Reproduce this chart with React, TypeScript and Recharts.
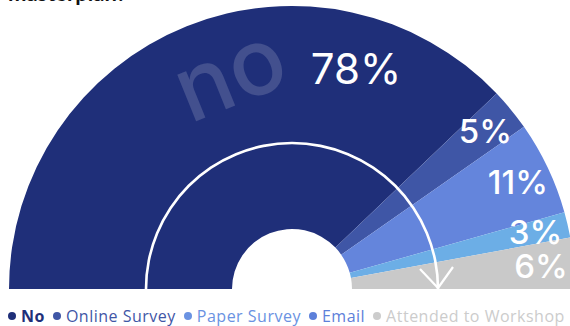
import React from "react";
import { PieChart, Pie, Cell, Legend } from "recharts";

const CATEGORIES = ["No", "Online Survey", "Paper Survey", "Email", "Attended to Workshop"];
const VALUES = [78, 5, 11, 3, 6];
const SLICE_COLORS = ["#1f2f79", "#3f56a6", "#6485dc", "#6caee6", "#c9c9c9"];
const LEGEND_COLORS = ["#1f2f79", "#3f56a6", "#6a92e2", "#5d80da", "#cccccc"];
const TITLE = "masterplan?";

const data = CATEGORIES.map((name, i) => ({ name, value: VALUES[i] }));

const W = 570;
const H = 326;
const CX = 292;
const CY = 289;
const OUTER = 283;
const INNER = 60;
const RING = 146;
const RAD = Math.PI / 180;

const renderLabel = (props: any) => {
  const { cx, cy, midAngle, index, value } = props;
  const big = index === 0;
  const r = big ? 230 : 250;
  // the big label sits right of the slice middle, like the original
  const a = big ? midAngle - 38 : midAngle;
  const x = cx + r * Math.cos(-a * RAD);
  const y = cy + r * Math.sin(-a * RAD);
  return (
    <text
      x={x}
      y={y}
      fill="#ffffff"
      textAnchor="middle"
      dominantBaseline="central"
      fontFamily="Inter, sans-serif"
      fontWeight={big ? 400 : 500}
      fontSize={big ? 42 : 33}
    >
      {value}%
    </text>
  );
};

const LegendContent = () => (
  <div
    style={{
      display: "flex",
      alignItems: "center",
      fontFamily: "'Open Sans', sans-serif",
      fontSize: 16,
      lineHeight: "20px",
      letterSpacing: 0.5,
      paddingLeft: 8,
      whiteSpace: "nowrap",
    }}
  >
    {CATEGORIES.map((c, i) => (
      <div key={c} style={{ display: "flex", alignItems: "center", marginRight: 8 }}>
        <span
          style={{
            width: 8,
            height: 8,
            borderRadius: 4,
            background: LEGEND_COLORS[i],
            marginRight: 5,
          }}
        />
        <span style={{ color: LEGEND_COLORS[i], fontWeight: i === 0 ? 700 : 500 }}>{c}</span>
      </div>
    ))}
  </div>
);

export default function App() {
  const tipX = CX + RING;
  return (
    <div style={{ position: "absolute", left: 0, top: 0, width: W, height: H, background: "#fff", overflow: "hidden" }}>
      <PieChart width={W} height={H} margin={{ top: 0, right: 0, bottom: 0, left: 0 }}>
        <Pie
          data={data}
          dataKey="value"
          cx={CX}
          cy={CY}
          startAngle={180}
          endAngle={0}
          innerRadius={INNER}
          outerRadius={OUTER}
          stroke="none"
          label={renderLabel}
          labelLine={false}
          isAnimationActive={false}
        >
          {data.map((d, i) => (
            <Cell key={d.name} fill={SLICE_COLORS[i]} />
          ))}
        </Pie>
        <Pie
          data={[{ name: "ring", value: 1 }]}
          dataKey="value"
          cx={CX}
          cy={CY}
          startAngle={180}
          endAngle={0}
          innerRadius={RING - 1.3}
          outerRadius={RING + 1.3}
          fill="#ffffff"
          stroke="none"
          isAnimationActive={false}
          legendType="none"
        />
        <Legend
          content={<LegendContent />}
          wrapperStyle={{ position: "absolute", left: 0, top: 306, width: W, height: 20 }}
        />
      </PieChart>
      <svg width={W} height={H} style={{ position: "absolute", left: 0, top: 0, pointerEvents: "none" }}>
        <text x={8} y={1} fontFamily="Lato, sans-serif" fontWeight={700} fontSize={22} fill="#111">
          {TITLE}
        </text>
        <text
          x={229}
          y={72}
          textAnchor="middle"
          dominantBaseline="central"
          fontFamily="Inter, sans-serif"
          fontWeight={500}
          fontSize={92}
          fill="rgba(255,255,255,0.16)"
          transform="rotate(-22 229 72)"
        >
          no
        </text>
        <line x1={tipX} y1={CY - 1} x2={tipX - 18} y2={CY - 20} stroke="#fff" strokeWidth={2.2} />
        <line x1={tipX} y1={CY - 1} x2={tipX + 15} y2={CY - 22} stroke="#fff" strokeWidth={2.2} />
      </svg>
    </div>
  );
}
